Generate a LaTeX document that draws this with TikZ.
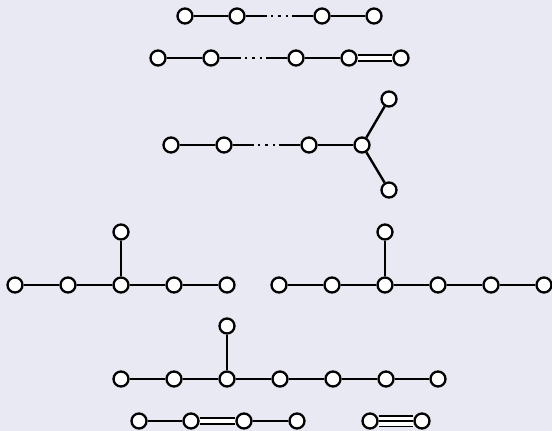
\documentclass[tikz,border=0pt]{standalone}
\usetikzlibrary{calc}
\definecolor{bg}{RGB}{233,233,243}
\tikzset{
  vert/.style={circle,draw=black,fill=white,line width=2.3pt,inner sep=0pt,minimum size=15pt},
  edge/.style={line width=2.4pt,black},
  dbl/.style={line width=1.9pt,double=white,double distance=3.6pt},
  dotty/.style={fill=black,inner sep=0pt,minimum size=2.5pt,rectangle}
}
\newcommand{\dotedge}[2]{%
  \draw[edge] (#1) -- ($(#1)!0.35!(#2)$);
  \draw[edge] ($(#1)!0.65!(#2)$) -- (#2);
  \node[dotty] at ($(#1)!0.41!(#2)$) {};
  \node[dotty] at ($(#1)!0.50!(#2)$) {};
  \node[dotty] at ($(#1)!0.59!(#2)$) {};
}
\begin{document}
\begin{tikzpicture}[x=1pt,y=-1pt]
\useasboundingbox[fill=bg] (0,0) rectangle (552,431);
% A_n
\node[vert] (a1) at (185,16) {};
\node[vert] (a2) at (237,16) {};
\node[vert] (a3) at (322,16) {};
\node[vert] (a4) at (374,16) {};
\draw[edge] (a1) -- (a2);
\dotedge{a2}{a3}
\draw[edge] (a3) -- (a4);
% B_n
\node[vert] (b1) at (158,58) {};
\node[vert] (b2) at (211,58) {};
\node[vert] (b3) at (296,58) {};
\node[vert] (b4) at (349,58) {};
\node[vert] (b5) at (401,58) {};
\draw[edge] (b1) -- (b2);
\dotedge{b2}{b3}
\draw[edge] (b3) -- (b4);
\draw[dbl] (b4) -- (b5);
% D_n
\node[vert] (d1) at (171,145) {};
\node[vert] (d2) at (224,145) {};
\node[vert] (d3) at (309,145) {};
\node[vert] (d4) at (362,145) {};
\node[vert] (d5) at (389,99) {};
\node[vert] (d6) at (389,190) {};
\draw[edge] (d1) -- (d2);
\dotedge{d2}{d3}
\draw[edge] (d3) -- (d4);
\draw[edge] (d4) -- (d5);
\draw[edge] (d4) -- (d6);
% E6
\node[vert] (e1) at (15,285) {};
\node[vert] (e2) at (68,285) {};
\node[vert] (e3) at (121,285) {};
\node[vert] (e4) at (174,285) {};
\node[vert] (e5) at (227,285) {};
\node[vert] (e6) at (121,232) {};
\draw[edge] (e1) -- (e2) -- (e3) -- (e4) -- (e5);
\draw[edge] (e3) -- (e6);
% E7
\node[vert] (f1) at (279,285) {};
\node[vert] (f2) at (332,285) {};
\node[vert] (f3) at (385,285) {};
\node[vert] (f4) at (438,285) {};
\node[vert] (f5) at (491,285) {};
\node[vert] (f6) at (544,285) {};
\node[vert] (f7) at (385,232) {};
\draw[edge] (f1) -- (f2) -- (f3) -- (f4) -- (f5) -- (f6);
\draw[edge] (f3) -- (f7);
% E8
\node[vert] (g1) at (121,379) {};
\node[vert] (g2) at (174,379) {};
\node[vert] (g3) at (227,379) {};
\node[vert] (g4) at (280,379) {};
\node[vert] (g5) at (333,379) {};
\node[vert] (g6) at (386,379) {};
\node[vert] (g7) at (438,379) {};
\node[vert] (g8) at (227,326) {};
\draw[edge] (g1) -- (g2) -- (g3) -- (g4) -- (g5) -- (g6) -- (g7);
\draw[edge] (g3) -- (g8);
% F4
\node[vert] (h1) at (139,421) {};
\node[vert] (h2) at (191,421) {};
\node[vert] (h3) at (244,421) {};
\node[vert] (h4) at (297,421) {};
\draw[edge] (h1) -- (h2);
\draw[dbl] (h2) -- (h3);
\draw[edge] (h3) -- (h4);
% G2
\node[vert] (k1) at (370,421) {};
\node[vert] (k2) at (422,421) {};
\draw[line width=1.9pt,double=white,double distance=9pt] (k1) -- (k2);
\draw[line width=1.9pt] (k1) -- (k2);
\end{tikzpicture}
\end{document}
